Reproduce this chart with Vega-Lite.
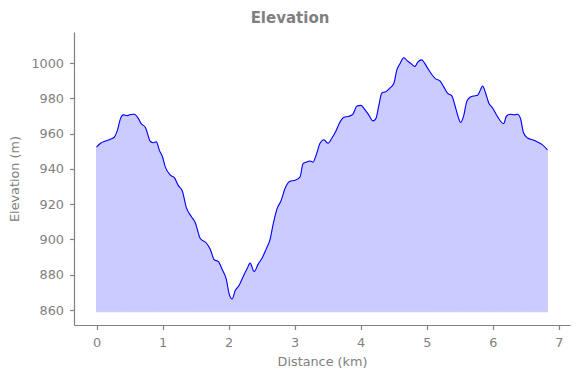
{
  "$schema": "https://vega.github.io/schema/vega-lite/v6.json",
  "autosize": "none",
  "width": 496,
  "height": 293,
  "padding": {"left": 74, "top": 32, "right": 10, "bottom": 53},
  "background": "white",
  "config": {
    "font": "DejaVu Sans",
    "view": {"stroke": null},
    "axis": {
      "grid": false,
      "domainColor": "#808080",
      "tickColor": "#808080",
      "labelColor": "#808080",
      "titleColor": "#808080",
      "labelFont": "DejaVu Sans",
      "titleFont": "DejaVu Sans",
      "labelFontSize": 12.8,
      "titleFontSize": 12.8,
      "titleFontWeight": "normal",
      "tickSize": 4.5,
      "domainWidth": 1.2,
      "tickWidth": 1.2
    }
  },
  "title": {
    "text": "Elevation",
    "font": "DejaVu Sans",
    "fontSize": 15,
    "fontWeight": "bold",
    "color": "#808080",
    "anchor": "middle",
    "dx": -32,
    "offset": 6
  },
  "data": {
    "values": [
      {"d": 0, "e": 952.3}, {"d": 0.06, "e": 954.5}, {"d": 0.136, "e": 955.8}, {"d": 0.211, "e": 956.8},
      {"d": 0.272, "e": 958.2}, {"d": 0.317, "e": 962}, {"d": 0.363, "e": 968.5}, {"d": 0.408, "e": 970.6},
      {"d": 0.468, "e": 970.2}, {"d": 0.514, "e": 970.8}, {"d": 0.574, "e": 971}, {"d": 0.634, "e": 968.5},
      {"d": 0.68, "e": 965.5}, {"d": 0.74, "e": 963.5}, {"d": 0.816, "e": 955.5}, {"d": 0.861, "e": 954.8},
      {"d": 0.906, "e": 955.3}, {"d": 0.952, "e": 950.5}, {"d": 0.997, "e": 947}, {"d": 1.042, "e": 941},
      {"d": 1.118, "e": 936.5}, {"d": 1.178, "e": 935}, {"d": 1.239, "e": 930.5}, {"d": 1.299, "e": 927.5},
      {"d": 1.36, "e": 918}, {"d": 1.435, "e": 913}, {"d": 1.495, "e": 909.5}, {"d": 1.571, "e": 900.5},
      {"d": 1.662, "e": 898}, {"d": 1.722, "e": 894.5}, {"d": 1.782, "e": 888.5}, {"d": 1.843, "e": 887.5},
      {"d": 1.903, "e": 883}, {"d": 1.964, "e": 877.5}, {"d": 2.009, "e": 869}, {"d": 2.054, "e": 866.2},
      {"d": 2.1, "e": 871}, {"d": 2.16, "e": 874}, {"d": 2.221, "e": 879}, {"d": 2.281, "e": 883.5},
      {"d": 2.326, "e": 886.6}, {"d": 2.387, "e": 881.8}, {"d": 2.447, "e": 886}, {"d": 2.508, "e": 889.5},
      {"d": 2.568, "e": 894.5}, {"d": 2.628, "e": 900}, {"d": 2.674, "e": 908.5}, {"d": 2.734, "e": 917.5},
      {"d": 2.795, "e": 922}, {"d": 2.855, "e": 929}, {"d": 2.931, "e": 933}, {"d": 3.006, "e": 933.5},
      {"d": 3.082, "e": 935.5}, {"d": 3.127, "e": 943}, {"d": 3.172, "e": 943.8}, {"d": 3.233, "e": 944.5},
      {"d": 3.278, "e": 943.8}, {"d": 3.323, "e": 947.5}, {"d": 3.384, "e": 954.5}, {"d": 3.444, "e": 956.5},
      {"d": 3.505, "e": 954.5}, {"d": 3.565, "e": 957.5}, {"d": 3.625, "e": 961.5}, {"d": 3.686, "e": 966.5},
      {"d": 3.746, "e": 969.3}, {"d": 3.822, "e": 969.8}, {"d": 3.882, "e": 971}, {"d": 3.943, "e": 975.6},
      {"d": 4.003, "e": 976}, {"d": 4.063, "e": 973.6}, {"d": 4.124, "e": 970.5}, {"d": 4.184, "e": 967.2},
      {"d": 4.23, "e": 968.5}, {"d": 4.275, "e": 976}, {"d": 4.32, "e": 983}, {"d": 4.381, "e": 983.8},
      {"d": 4.441, "e": 985.8}, {"d": 4.502, "e": 988.5}, {"d": 4.547, "e": 996}, {"d": 4.592, "e": 999.5},
      {"d": 4.653, "e": 1003}, {"d": 4.713, "e": 1001}, {"d": 4.758, "e": 999.8}, {"d": 4.819, "e": 998},
      {"d": 4.864, "e": 1000.5}, {"d": 4.924, "e": 1001.8}, {"d": 4.97, "e": 999.8}, {"d": 5.015, "e": 997},
      {"d": 5.076, "e": 993.5}, {"d": 5.136, "e": 991}, {"d": 5.196, "e": 990}, {"d": 5.257, "e": 986.5},
      {"d": 5.317, "e": 982.8}, {"d": 5.378, "e": 981.5}, {"d": 5.423, "e": 976.5}, {"d": 5.468, "e": 970.5},
      {"d": 5.514, "e": 966.3}, {"d": 5.559, "e": 970}, {"d": 5.604, "e": 978}, {"d": 5.65, "e": 980.5},
      {"d": 5.71, "e": 981.3}, {"d": 5.77, "e": 981.8}, {"d": 5.816, "e": 985}, {"d": 5.846, "e": 987},
      {"d": 5.891, "e": 983}, {"d": 5.937, "e": 977.5}, {"d": 5.997, "e": 974.5}, {"d": 6.057, "e": 970.5},
      {"d": 6.118, "e": 967}, {"d": 6.163, "e": 965.6}, {"d": 6.208, "e": 970}, {"d": 6.269, "e": 971},
      {"d": 6.329, "e": 970.6}, {"d": 6.375, "e": 971}, {"d": 6.42, "e": 968.5}, {"d": 6.465, "e": 960.5},
      {"d": 6.526, "e": 957.5}, {"d": 6.601, "e": 956.5}, {"d": 6.677, "e": 955.2}, {"d": 6.752, "e": 953.6},
      {"d": 6.828, "e": 950.8}
    ]
  },
  "encoding": {
    "x": {
      "field": "d",
      "type": "quantitative",
      "scale": {"domain": [-0.341, 7.169], "nice": false, "zero": false},
      "axis": {"title": "Distance (km)", "values": [0, 1, 2, 3, 4, 5, 6, 7], "format": "d", "labelPadding": 7, "titlePadding": 6}
    },
    "y": {
      "field": "e",
      "type": "quantitative",
      "scale": {"domain": [851.5, 1017.6], "nice": false, "zero": false},
      "axis": {"title": "Elevation (m)", "values": [860, 880, 900, 920, 940, 960, 980, 1000], "format": "d", "labelPadding": 6, "titlePadding": 9}
    }
  },
  "layer": [
    {
      "mark": {"type": "area", "fill": "#0000ff", "stroke": "#0000ff", "strokeWidth": 1, "opacity": 0.2, "interpolate": "monotone"},
      "encoding": {"y2": {"datum": 859}}
    },
    {
      "mark": {"type": "line", "color": "#0000ff", "strokeWidth": 1.1, "interpolate": "monotone"}
    }
  ]
}
